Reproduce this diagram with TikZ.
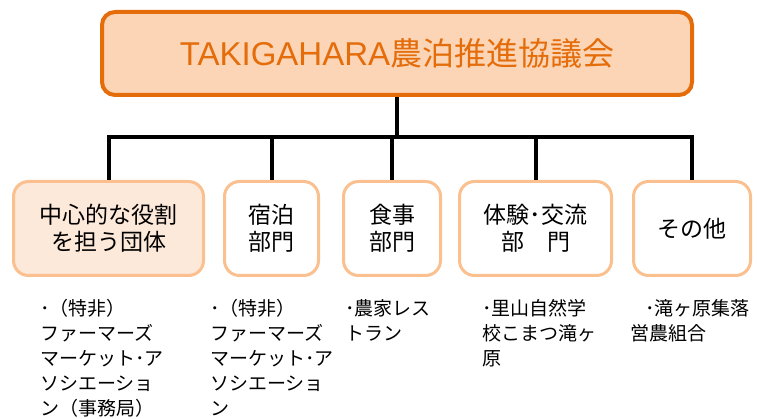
\documentclass[tikz,border=0pt]{standalone}
\usepackage{fontspec}
\setmainfont{Noto Sans CJK JP}
\newfontfamily\latinfont{Liberation Sans}
\usepackage{tikz}
\definecolor{orgline}{RGB}{228,108,10}
\definecolor{orgfill}{RGB}{251,213,181}
\definecolor{subline}{RGB}{250,192,143}
\definecolor{subfill}{RGB}{253,233,217}
\tikzstyle{council}=[draw=orgline, fill=orgfill, line width=4pt, rounded corners=13pt, minimum width=590pt, minimum height=83pt, text=orgline, font=\fontsize{32}{38}\selectfont]
\tikzstyle{unit}=[draw=subline, fill=white, line width=3pt, rounded corners=15pt, minimum height=94pt, align=center, font=\fontsize{23}{27}\selectfont]
\tikzstyle{member}=[anchor=north west, inner sep=0pt, align=left, font=\fontsize{19}{25}\selectfont]
\tikzstyle{branch}=[line width=4pt]

\begin{document}
\begin{tikzpicture}[x=1pt, y=-1pt]
        \useasboundingbox (0,0) rectangle (757,419);
        \node[council] (top) at (397, 53.5) {{\latinfont\fontsize{33}{38}\selectfont TAKIGAHARA}農泊推進協議会};
        \coordinate (bar) at (0, 137);
        \node[unit, fill=subfill, minimum width=190pt] (core) at (108.5, 228.5) {中心的な役割\\を担う団体};
        \node[unit, minimum width=94pt] (stay) at (271.5, 228.5) {宿泊\\部門};
        \node[unit, minimum width=97pt] (food) at (392, 228.5) {食事\\部門};
        \node[unit, minimum width=152pt] (exper) at (535.5, 228.5) {体験･交流\\部　門};
        \node[unit, minimum width=117pt] (other) at (692, 228.5) {その他};
        \draw[branch] (top.south) -- (top.south |- bar);
        \draw[branch] (core.north) |- (other.north |- bar) -- (other.north);
        \draw[branch] (stay.north) -- (stay.north |- bar);
        \draw[branch] (food.north) -- (food.north |- bar);
        \draw[branch] (exper.north) -- (exper.north |- bar);
        \node[member] (coremem) at (40, 299) {･（特非）\\ファーマーズ\\マーケット･ア\\ソシエーショ\\ン（事務局）};
        \node[member] (staymem) at (210, 299) {･（特非）\\ファーマーズ\\マーケット･ア\\ソシエーショ\\ン};
        \node[member] (foodmem) at (345, 299) {･農家レス\\トラン};
        \node[member] (expermem) at (482, 299) {･里山自然学\\校こまつ滝ヶ\\原};
        \node[member] (othermem) at (630, 299) {\hspace{0.8em}･滝ヶ原集落\\営農組合};
    \end{tikzpicture}
\end{document}
